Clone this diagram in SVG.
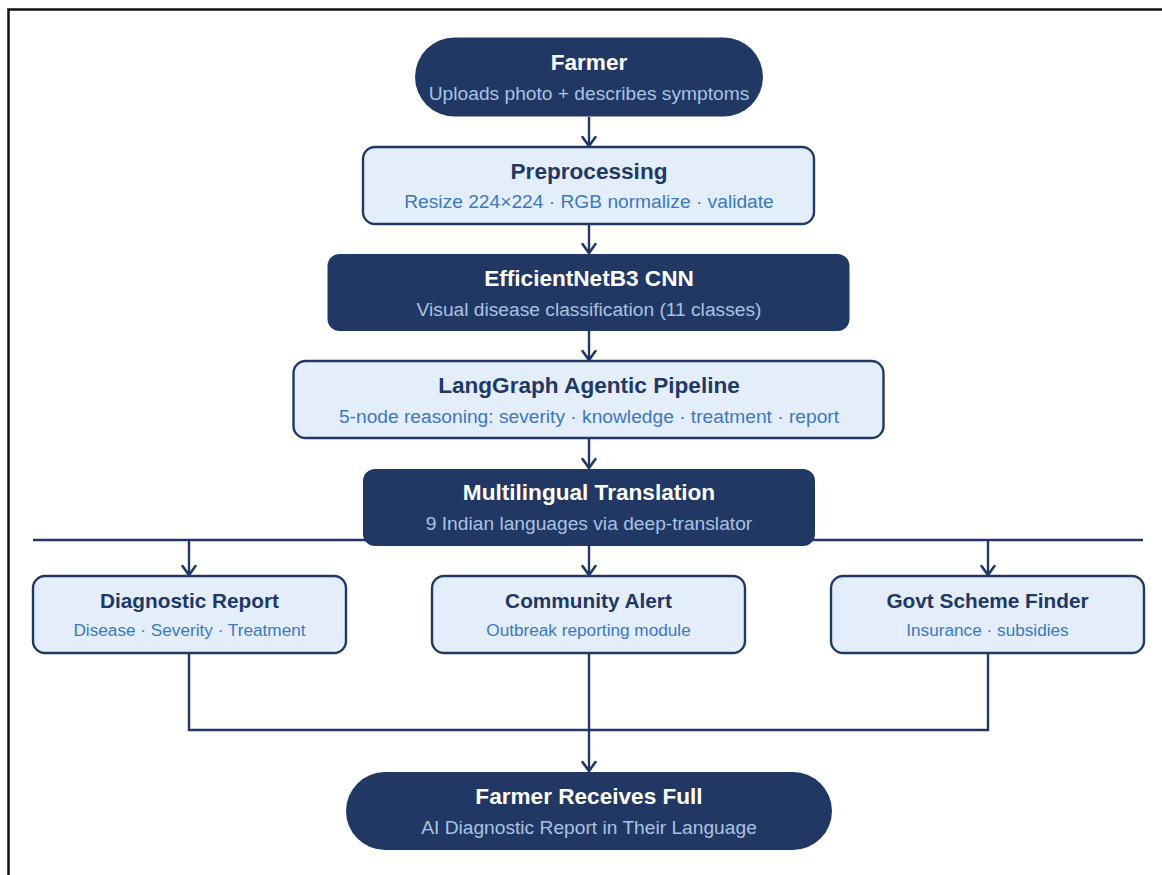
<svg xmlns="http://www.w3.org/2000/svg" width="1162" height="875" viewBox="0 0 1162 875">
<defs>
<marker id="chev" markerUnits="userSpaceOnUse" markerWidth="20" markerHeight="20" refX="0" refY="0" orient="auto" overflow="visible">
<path d="M-9,-6.5 L0,0 L-9,6.5" fill="none" stroke="#1f3864" stroke-width="2.6" stroke-linejoin="miter" stroke-linecap="round"/>
</marker>
</defs>
<style>
.dark{fill:#213864;}
.light{fill:#e4eefa;stroke:#213864;stroke-width:2.4;}
.t{font-family:"Liberation Sans",Arial,sans-serif;font-weight:bold;text-anchor:middle;}
.s{font-family:"Liberation Sans",Arial,sans-serif;text-anchor:middle;}
.tw{fill:#ffffff;font-size:22.6px;}
.sw{fill:#a9c3e3;font-size:19.2px;}
.tn{fill:#213864;font-size:22.6px;}
.sb{fill:#3b78c0;font-size:19.2px;}
.tn2{fill:#213864;font-size:20.8px;}
.sb2{fill:#3b78c0;font-size:17.2px;}
.c{fill:none;stroke:#213864;stroke-width:2.4;}
</style>
<rect width="1162" height="875" fill="#ffffff"/>
<g id="frame">
<path d="M8.5,875 L8.5,9.5 L1162,9.5" fill="none" stroke="#111111" stroke-width="2.5"/>
</g>
<g id="connectors">
<line class="c" x1="33" y1="540" x2="1143" y2="540"/>
<line class="c" x1="589" y1="117" x2="589" y2="146" marker-end="url(#chev)"/>
<line class="c" x1="589" y1="224" x2="589" y2="253" marker-end="url(#chev)"/>
<line class="c" x1="589" y1="331" x2="589" y2="360" marker-end="url(#chev)"/>
<line class="c" x1="589" y1="438" x2="589" y2="468" marker-end="url(#chev)"/>
<line class="c" x1="189" y1="540" x2="189" y2="575" marker-end="url(#chev)"/>
<line class="c" x1="589" y1="546" x2="589" y2="575" marker-end="url(#chev)"/>
<line class="c" x1="988" y1="540" x2="988" y2="575" marker-end="url(#chev)"/>
<path class="c" d="M189,653 L189,730 L988,730 L988,653"/>
<line class="c" x1="589" y1="653" x2="589" y2="771" marker-end="url(#chev)"/>
</g>
<g id="farmer">
<rect class="dark" x="415" y="37.5" width="348" height="79" rx="39.5"/>
<text class="t tw" x="589" y="70">Farmer</text>
<text class="s sw" x="589" y="100">Uploads photo + describes symptoms</text>
</g>
<g id="preprocessing">
<rect class="light" x="363" y="147" width="451" height="77" rx="12"/>
<text class="t tn" x="589" y="179">Preprocessing</text>
<text class="s sb" x="589" y="208">Resize 224×224 · RGB normalize · validate</text>
</g>
<g id="efficientnet">
<rect class="dark" x="327.5" y="254" width="522" height="77" rx="12"/>
<text class="t tw" x="589" y="286">EfficientNetB3 CNN</text>
<text class="s sw" x="589" y="316">Visual disease classification (11 classes)</text>
</g>
<g id="langgraph">
<rect class="light" x="293.5" y="361" width="590" height="77" rx="12"/>
<text class="t tn" x="589" y="393">LangGraph Agentic Pipeline</text>
<text class="s sb" x="589" y="423">5-node reasoning: severity · knowledge · treatment · report</text>
</g>
<g id="translation">
<rect class="dark" x="363" y="469" width="452" height="77" rx="12"/>
<text class="t tw" x="589" y="500">Multilingual Translation</text>
<text class="s sw" x="589" y="530">9 Indian languages via deep-translator</text>
</g>
<g id="diagnostic">
<rect class="light" x="33" y="576" width="313" height="77" rx="12"/>
<text class="t tn2" x="189.5" y="608">Diagnostic Report</text>
<text class="s sb2" x="189.5" y="636">Disease · Severity · Treatment</text>
</g>
<g id="community">
<rect class="light" x="432" y="576" width="313" height="77" rx="12"/>
<text class="t tn2" x="588.5" y="608">Community Alert</text>
<text class="s sb2" x="588.5" y="636">Outbreak reporting module</text>
</g>
<g id="govt">
<rect class="light" x="831" y="576" width="313" height="77" rx="12"/>
<text class="t tn2" x="987.5" y="608">Govt Scheme Finder</text>
<text class="s sb2" x="987.5" y="636">Insurance · subsidies</text>
</g>
<g id="receives">
<rect class="dark" x="346" y="772" width="486" height="78" rx="39"/>
<text class="t tw" x="589" y="804">Farmer Receives Full</text>
<text class="s sw" x="589" y="834">AI Diagnostic Report in Their Language</text>
</g>
</svg>
